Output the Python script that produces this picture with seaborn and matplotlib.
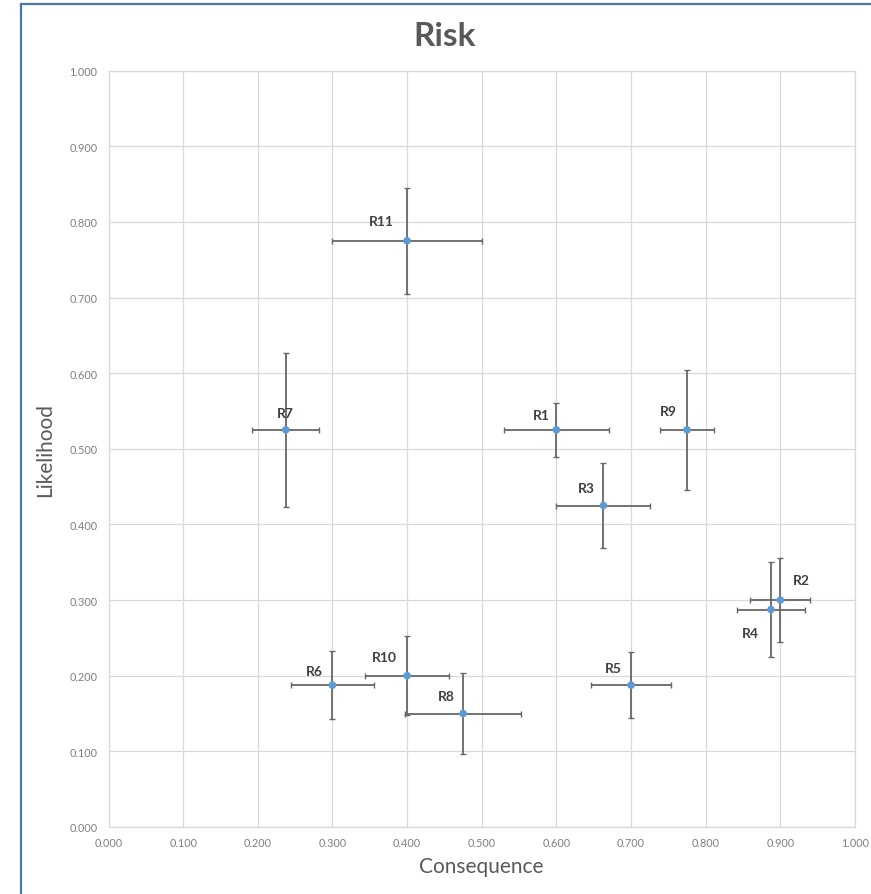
import matplotlib
matplotlib.use("Agg")
import matplotlib.pyplot as plt
from matplotlib.patches import Rectangle
from matplotlib.ticker import MultipleLocator, FormatStrFormatter
import seaborn as sns
import pandas as pd

# Risk register: consequence / likelihood with uncertainty ranges
risk_ids = ["R1", "R2", "R3", "R4", "R5", "R6", "R7", "R8", "R9", "R10", "R11"]
consequence = [0.600, 0.900, 0.663, 0.8875, 0.700, 0.300, 0.2375, 0.475, 0.775, 0.400, 0.400]
likelihood = [0.525, 0.300, 0.425, 0.2875, 0.1875, 0.1875, 0.525, 0.150, 0.525, 0.200, 0.775]
consequence_err = [0.070, 0.040, 0.063, 0.045, 0.053, 0.056, 0.045, 0.078, 0.036, 0.056, 0.100]
likelihood_err = [0.036, 0.056, 0.056, 0.063, 0.044, 0.045, 0.102, 0.053, 0.079, 0.052, 0.070]

# label placement relative to each point (pixels, y up)
label_offsets = {
    "R1": (-15, 15), "R2": (21, 20), "R3": (-17, 18), "R4": (-21, -23),
    "R5": (-18, 17), "R6": (-18, 14), "R7": (0, 17), "R8": (-17, 18),
    "R9": (-19, 19), "R10": (-23, 19), "R11": (-26, 20),
}

df = pd.DataFrame({
    "risk": risk_ids,
    "Consequence": consequence,
    "Likelihood": likelihood,
    "xerr": consequence_err,
    "yerr": likelihood_err,
})

sns.set_theme(style="whitegrid")
plt.rcParams["font.family"] = ["Lato", "DejaVu Sans"]

W, H, DPI = 871, 895, 100
fig = plt.figure(figsize=(W / DPI, H / DPI), dpi=DPI)
ax_left, ax_right, ax_top, ax_bottom = 108.5, 855.0, 71.6, 828.0
ax = fig.add_axes([ax_left / W, 1 - ax_bottom / H,
                   (ax_right - ax_left) / W, (ax_bottom - ax_top) / H])

ax.errorbar(df["Consequence"], df["Likelihood"], xerr=df["xerr"], yerr=df["yerr"],
            fmt="none", ecolor="#676767", elinewidth=1.3, capsize=2.2,
            capthick=1.0, zorder=2)
sns.scatterplot(data=df, x="Consequence", y="Likelihood", ax=ax,
                color="#5B9BD5", s=30, edgecolor="none", zorder=3, legend=False)

px = 72.0 / DPI
for rid, cx, ly in zip(df["risk"], df["Consequence"], df["Likelihood"]):
    dx, dy = label_offsets[rid]
    ax.annotate(rid, (cx, ly), xytext=(dx * px, dy * px), textcoords="offset points",
                ha="center", va="center", fontsize=10, fontweight="bold",
                color="#404040", zorder=4)

ax.set_xlim(0, 1)
ax.set_ylim(0, 1)
ax.xaxis.set_major_locator(MultipleLocator(0.1))
ax.yaxis.set_major_locator(MultipleLocator(0.1))
ax.xaxis.set_major_formatter(FormatStrFormatter("%.3f"))
ax.yaxis.set_major_formatter(FormatStrFormatter("%.3f"))
ax.grid(True, color="#D9D9D9", linewidth=0.9)
for sp in ax.spines.values():
    sp.set_visible(True)
    sp.set_color("#D9D9D9")
    sp.set_linewidth(0.9)
ax.tick_params(axis="both", length=0, labelsize=7.8, labelcolor="#7F7F7F")
ax.tick_params(axis="x", pad=7)
ax.tick_params(axis="y", pad=8)

ax.set_xlabel("Consequence", fontsize=15, color="#595959", labelpad=6)
ax.set_ylabel("Likelihood", fontsize=15, color="#595959", labelpad=10)

fig.text(444.5 / W, 1 - 37 / H, "Risk", ha="center", va="center",
         fontsize=24, fontweight="bold", color="#595959")

# chart frame (continues past the right and bottom edges of the image)
frame_left, frame_top = 21, 5
fig.patches.append(Rectangle((frame_left / W, -10 / H),
                             (W + 20 - frame_left) / W, (H - frame_top + 10) / H,
                             transform=fig.transFigure, fill=False,
                             edgecolor="#4A77A8", linewidth=1.6, clip_on=False))

fig.savefig("out.png", dpi=DPI, facecolor="white")
